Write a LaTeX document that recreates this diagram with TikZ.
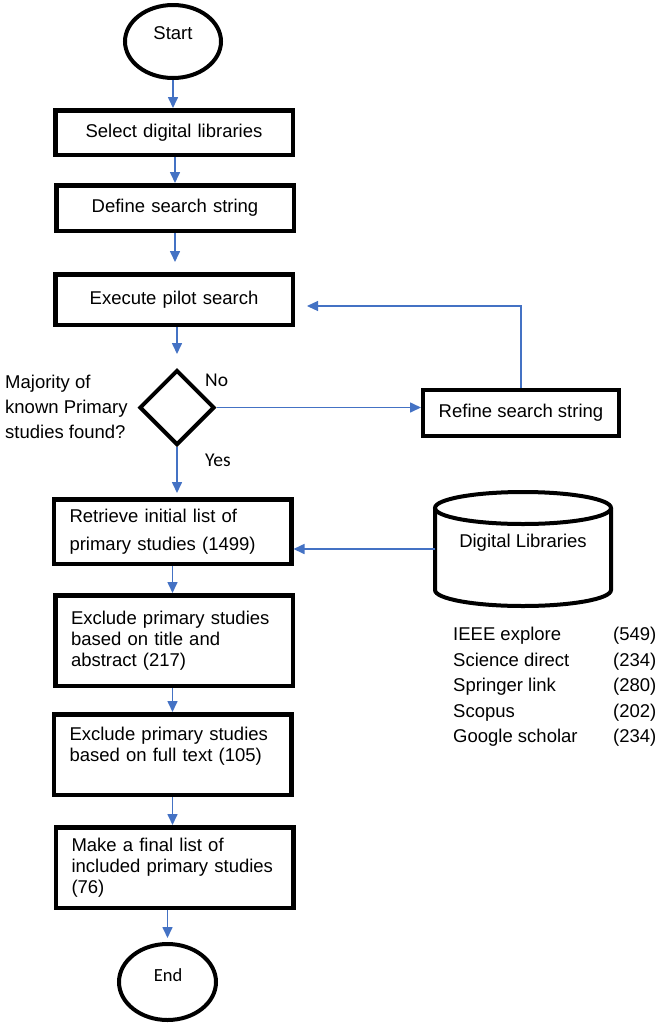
\documentclass[tikz,border=0pt]{standalone}
\usepackage{fontspec}
\setmainfont{Liberation Sans}
\newfontfamily\calibfont{Carlito}
\usetikzlibrary{arrows.meta,shapes.geometric}
\definecolor{flowblue}{HTML}{4472C4}

\begin{document}
\begin{tikzpicture}[x=1pt,y=-1pt,
  every node/.style={font=\fontsize{18.5}{21}\selectfont},
  stepbox/.style={draw, rectangle, line width=4.5pt, text width=206pt,
    inner xsep=15.75pt, inner ysep=0pt},
  terminal/.style={draw, ellipse, line width=4pt, inner sep=0pt},
  decision/.style={draw, diamond, line width=4pt, inner sep=0pt, minimum size=75pt},
  flow/.style={draw=flowblue, line width=1.6pt, -{Triangle[length=11pt,width=10pt]}},
  answer/.style={anchor=west, inner sep=0pt, font=\calibfont\fontsize{19.5}{22}\selectfont},
]
\useasboundingbox (0,0) rectangle (656,1023);

% terminals
\node[terminal, minimum width=96pt, minimum height=73pt] (start) at (173,41.5) {};
\node (starttext) at (173,33) {Start};
\node[terminal, minimum width=97pt, minimum height=76pt] (stop) at (167.5,982) {};
\node[font=\calibfont\fontsize{18.5}{21}\selectfont] (stoptext) at (168,975) {End};

% process steps
\node[stepbox, align=center, minimum height=44.5pt] (b1) at (174,132.5) {Select digital libraries};
\node[stepbox, align=center, minimum height=45.5pt] (b2) at (175,208) {Define search string};
\node[stepbox, align=center, minimum height=50.5pt] (b3) at (174,299.5) {Execute pilot search};
\node[stepbox, align=left, minimum height=64.5pt, font=\fontsize{18.5}{28.5}\selectfont]
  (b4) at (172.5,531.5) {Retrieve initial list of\\primary studies (1499)};
\node[stepbox, align=left, minimum height=90.5pt] (b5) at (174,640.5)
  {Exclude primary studies\\based on title and\\abstract (217)};
\node[stepbox, align=left, minimum height=80.5pt] (b6) at (172.5,754.5)
  {Exclude primary studies\\based on full text (105)\\\mbox{}};
\node[stepbox, align=left, minimum height=80.5pt] (b7) at (174.5,867.5)
  {Make a final list of\\included primary studies\\(76)};

% decision and its labels
\node[decision] (dec) at (177,407.5) {};
\node[anchor=west, align=left, inner sep=0pt, font=\fontsize{18.5}{25}\selectfont]
  (question) at (5,407) {Majority of\\known Primary\\studies found?};
\node[answer] (no) at (205,380) {No};
\node[answer] (yes) at (205,460) {Yes};

% refinement step
\node[draw, line width=4pt, minimum width=196pt, minimum height=46pt, inner sep=0pt]
  (refine) at (521,413) {Refine search string};

% database cylinder
\draw[line width=4pt] (523,508) ellipse[x radius=88pt, y radius=16pt];
\draw[line width=4pt] (435,508) -- (435,590)
  arc[start angle=180, end angle=360, x radius=88pt, y radius=16pt] -- (611,508);
\node (dltext) at (523,543) {Digital Libraries};
\coordinate (dlw) at (435,549);

% library counts
\node[anchor=west, align=left, inner sep=0pt, font=\fontsize{18.5}{25.5}\selectfont]
  (libnames) at (453,687) {IEEE explore\\Science direct\\Springer link\\Scopus\\Google scholar};
\node[anchor=west, align=left, inner sep=0pt, font=\fontsize{18.5}{25.5}\selectfont]
  (libcounts) at (613,687) {(549)\\(234)\\(280)\\(202)\\(234)};

% connectors
\draw[flow] (start.south) -- (start.south |- b1.north);
\draw[flow] (b2.north |- b1.south) -- (b2.north);
\draw[flow, shorten >=10pt] (b2.south) -- (b2.south |- b3.north);
\draw[flow, shorten >=14pt] (dec.north |- b3.south) -- (dec.north);
\draw[flow] (dec.east) -- (dec.east -| refine.west);
\coordinate (fb) at (307,306);
\draw[flow, line width=1.2pt] (refine.north) |- (fb);
\draw[flow, shorten >=4pt] (dec.south) -- (dec.south |- b4.north);
\draw[flow] (dlw) -- (dlw -| b4.east);
\draw[flow] (b4.south) -- (b4.south |- b5.north);
\draw[flow] (b6.north |- b5.south) -- (b6.north);
\draw[flow] (b6.south) -- (b6.south |- b7.north);
\draw[flow, shorten >=4pt] (stop.north |- b7.south) -- (stop.north);
\end{tikzpicture}
\end{document}
